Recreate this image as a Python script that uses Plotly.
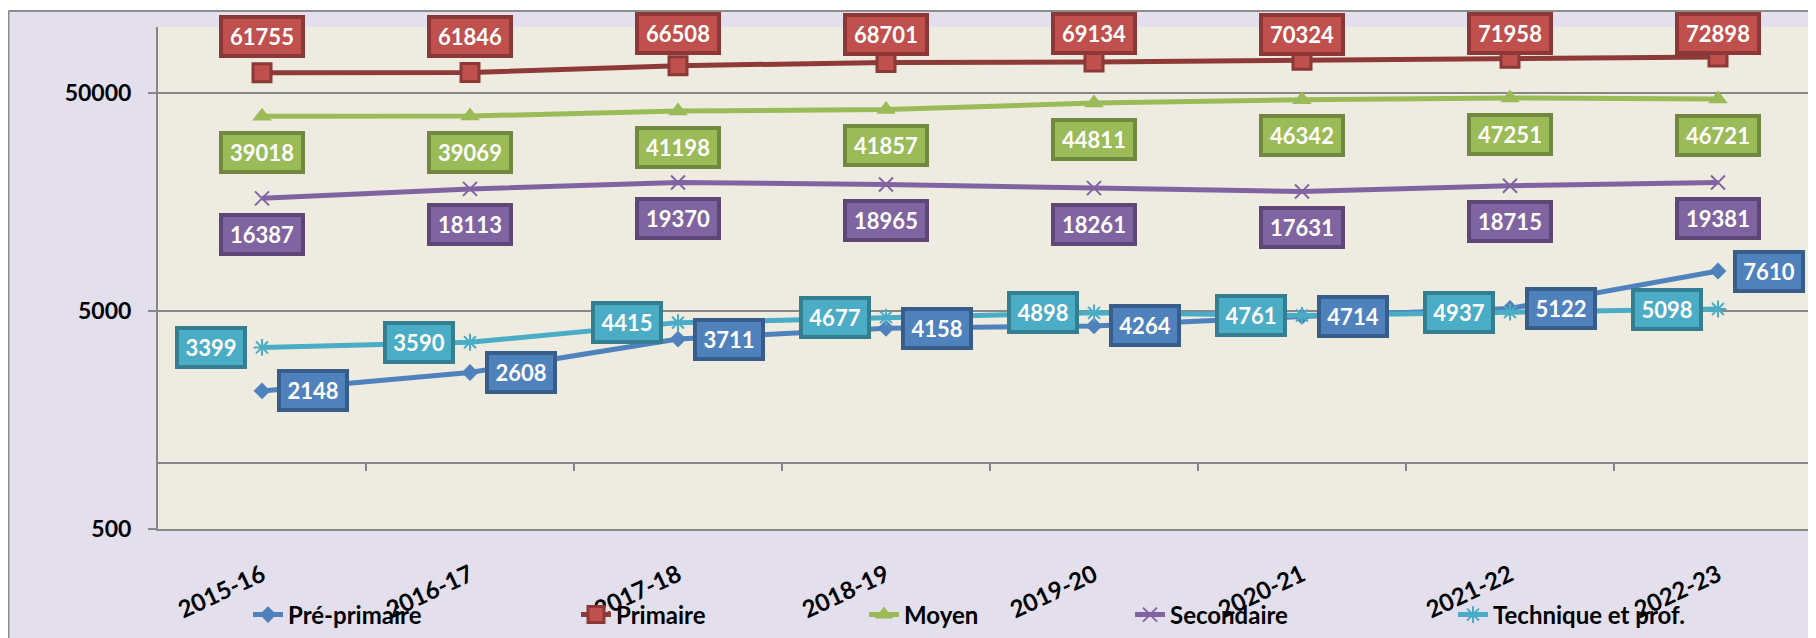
import numpy as np
import plotly.graph_objects as go

# ---------------- data ----------------
years = ["2015-16", "2016-17", "2017-18", "2018-19", "2019-20", "2020-21", "2021-22", "2022-23"]
pre_primaire = [2148, 2608, 3711, 4158, 4264, 4714, 5122, 7610]
primaire = [61755, 61846, 66508, 68701, 69134, 70324, 71958, 72898]
moyen = [39018, 39069, 41198, 41857, 44811, 46342, 47251, 46721]
secondaire = [16387, 18113, 19370, 18965, 18261, 17631, 18715, 19381]
technique = [3399, 3590, 4415, 4677, 4898, 4761, 4937, 5098]
series_names = ["Pré-primaire", "Primaire", "Moyen", "Secondaire", "Technique et prof."]
y_ticks = [500, 5000, 50000]
axis_cross = 1000

# ---------------- geometry (page px, body has an 8px margin) ----------------
OFF = 8
PAGE_W, PAGE_H = 1816, 638
W, H = PAGE_W - OFF, PAGE_H - OFF
L, T, B = 158 - OFF, 27 - OFF, 529 - OFF
plot_w, plot_h = W - L, B - T
cat_px = 208
x_range = [-0.5, -0.5 + plot_w / cat_px]
y0, y1 = np.log10(500), 5.0

GRID = "#878787"
FONT = "Lato"


def px_x(page_px):
    return (page_px - OFF - L) / plot_w


def px_y(page_py):
    return (B - (page_py - OFF)) / plot_h


def value_py(v):
    return OFF + T + plot_h * (1 - (np.log10(v) - y0) / (y1 - y0))


styles = [
    dict(line="#4F81BD", symbol="diamond", size=13, mfill="#4F81BD", mline="#4F81BD", mlw=0,
         fill="#4F81BD", border="#385D8A", pos="right"),
    dict(line="#8E3A38", symbol="square", size=18, mfill="#C0504D", mline="#8C3836", mlw=3,
         fill="#C0504D", border="#8C3836", pos="above"),
    dict(line="#9BBB59", symbol="triangle-up", size=17, mfill="#9BBB59", mline="#9BBB59", mlw=0,
         fill="#9BBB59", border="#71893F", pos="below"),
    dict(line="#8064A2", symbol="x-thin-open", size=14, mfill="#8064A2", mline="#8064A2", mlw=2,
         fill="#8064A2", border="#5C4776", pos="below"),
    dict(line="#4BACC6", symbol="asterisk-open", size=14, mfill="#4BACC6", mline="#4BACC6", mlw=2,
         fill="#4BACC6", border="#357D91", pos="left"),
]
all_series = [pre_primaire, primaire, moyen, secondaire, technique]
legend_text_start = [289, 617, 905, 1171, 1494]
legend_keys = ["legend", "legend2", "legend3", "legend4", "legend5"]

fig = go.Figure()
annotations = []
for name, vals, st, lk in zip(series_names, all_series, styles, legend_keys):
    fig.add_trace(go.Scatter(
        x=years, y=vals, name=name, mode="lines+markers", legend=lk,
        line=dict(color=st["line"], width=5),
        marker=dict(symbol=st["symbol"], size=st["size"], color=st["mfill"],
                    line=dict(color=st["mline"], width=st["mlw"])),
        cliponaxis=False,
    ))
    for yr, v in zip(years, vals):
        txt = str(v)
        xs, ys = 0, 0
        if st["pos"] == "right":
            xs = 51
        elif st["pos"] == "left":
            xs = -51
        elif st["pos"] == "below":
            ys = -36
        else:
            ys = min(36, value_py(v) - 34)
        annotations.append(dict(
            x=yr, y=np.log10(v), xref="x", yref="y", text=txt, showarrow=False,
            xshift=xs, yshift=ys,
            font=dict(family=FONT, size=22, color="white", weight="bold"),
            bgcolor=st["fill"], bordercolor=st["border"], borderwidth=4, borderpad=3,
            width=2 + 14 * len(txt), height=29, align="center", valign="middle",
        ))

# dummy trace for the category-crossing axis
fig.add_trace(go.Scatter(x=[None], y=[None], xaxis="x2", yaxis="y", showlegend=False,
                         hoverinfo="skip", mode="lines"))

shapes = [
    # white band above the chart area
    dict(type="rect", xref="paper", yref="paper", x0=px_x(0), x1=px_x(PAGE_W + 5), y0=px_y(11), y1=px_y(0),
         fillcolor="white", line=dict(width=0), layer="below"),
    # chart area border
    dict(type="line", xref="paper", yref="paper", x0=px_x(8.5), x1=px_x(PAGE_W + 5), y0=px_y(11), y1=px_y(11),
         line=dict(color="#8C8C8C", width=2)),
    dict(type="line", xref="paper", yref="paper", x0=px_x(8.5), x1=px_x(8.5), y0=px_y(11), y1=px_y(PAGE_H + 5),
         line=dict(color="#8C8C8C", width=2)),
]

legend_common = dict(orientation="h", yanchor="middle", y=px_y(615), xanchor="left",
                     bgcolor="rgba(0,0,0,0)", font=dict(family=FONT, size=24, color="black", weight="bold"),
                     itemclick=False, itemdoubleclick=False)
legends = {}
for lk, ts in zip(legend_keys, legend_text_start):
    legends[lk] = dict(legend_common, x=px_x(ts - 41))

fig.update_layout(
    width=W, height=H,
    margin=dict(l=L, r=0, t=T, b=H - B, pad=0),
    paper_bgcolor="#E4DFEC",
    plot_bgcolor="#EEECE1",
    showlegend=True,
    annotations=annotations,
    shapes=shapes,
    xaxis=dict(
        type="category", categoryorder="array", categoryarray=years,
        range=x_range, showgrid=False, zeroline=False,
        showline=True, linecolor=GRID, linewidth=2,
        ticks="", tickangle=-25, ticklabelstandoff=21,
        tickfont=dict(family=FONT, size=24, color="black", weight="bold"),
    ),
    xaxis2=dict(
        overlaying="x", anchor="free",
        position=(np.log10(axis_cross) - y0) / (y1 - y0),
        range=x_range, showgrid=False, zeroline=False,
        showline=True, linecolor=GRID, linewidth=2,
        ticks="outside", ticklen=7, tickwidth=2, tickcolor=GRID,
        tickvals=[i + 0.5 for i in range(len(years))],
        showticklabels=False,
    ),
    yaxis=dict(
        type="log", range=[y0, y1], tickvals=y_ticks, ticktext=[str(v) for v in y_ticks],
        showgrid=True, gridcolor=GRID, gridwidth=2, zeroline=False,
        showline=True, linecolor=GRID, linewidth=2,
        ticks="outside", ticklen=8, tickwidth=2, tickcolor=GRID, ticklabelstandoff=12,
        tickfont=dict(family=FONT, size=23, color="black", weight="bold"),
    ),
    **legends,
)

fig.write_html("out.html")
